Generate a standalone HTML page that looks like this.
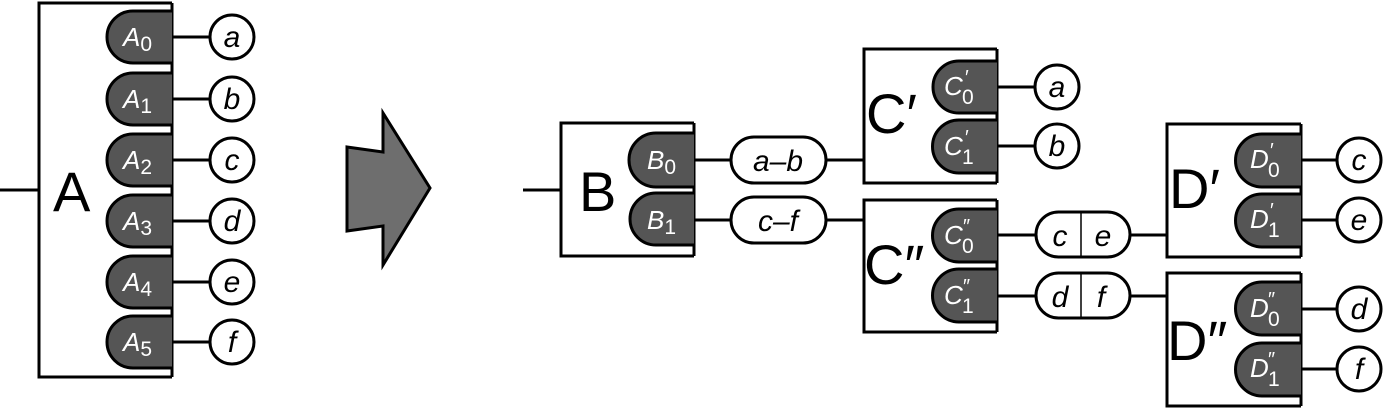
<!DOCTYPE html>
<html><head><meta charset="utf-8"><style>
html,body{margin:0;padding:0;background:#fff;}
svg{display:block;}
text{font-family:"Liberation Sans",Arial,sans-serif;}
.big{font-size:56px;fill:#000;}
.pl{font-size:26px;fill:#fff;font-style:italic;}
.sub{font-size:21px;font-style:normal;}
.cl{font-size:30px;font-style:italic;fill:#000;}
</style></head><body>
<svg width="1386" height="408" viewBox="0 0 1386 408" xmlns="http://www.w3.org/2000/svg">
<g stroke="#000" stroke-width="3" fill="none">
<!-- A -->
<line x1="0" y1="190" x2="39" y2="190"/>
<path d="M172,3 H39 V377 H172"/>
<line x1="172" y1="3" x2="172" y2="377"/>
<!-- connectors A -->
<line x1="172" y1="37" x2="210" y2="37"/>
<line x1="172" y1="99" x2="210" y2="99"/>
<line x1="172" y1="160" x2="210" y2="160"/>
<line x1="172" y1="221" x2="210" y2="221"/>
<line x1="172" y1="282" x2="210" y2="282"/>
<line x1="172" y1="342" x2="210" y2="342"/>
<g fill="#fff">
<circle cx="232" cy="37" r="22"/><circle cx="232" cy="99" r="22"/><circle cx="232" cy="160" r="22"/>
<circle cx="232" cy="221" r="22"/><circle cx="232" cy="282" r="22"/><circle cx="232" cy="342" r="22"/>
</g>
<g fill="#555">
<path d="M172,11 H133 A26,26 0 0 0 133,63 H172"/>
<path d="M172,73 H133 A26,26 0 0 0 133,125 H172"/>
<path d="M172,134 H133 A26,26 0 0 0 133,186 H172"/>
<path d="M172,195 H133 A26,26 0 0 0 133,247 H172"/>
<path d="M172,256 H133 A26,26 0 0 0 133,308 H172"/>
<path d="M172,316 H133 A26,26 0 0 0 133,368 H172"/>
</g>
<!-- arrow -->
<polygon points="347,147 383,152 383,113 430,188 383,265 383,226 347,231" fill="#6e6e6e"/>
<!-- B -->
<line x1="523" y1="190" x2="561" y2="190"/>
<path d="M694,123 H561 V256 H694"/>
<line x1="694" y1="123" x2="694" y2="256"/>
<g fill="#555">
<path d="M694,133 H656 A27,27 0 0 0 656,187 H694"/>
<path d="M694,193 H656 A26,26 0 0 0 656,245 H694"/>
</g>
<line x1="694" y1="160" x2="731" y2="160"/>
<line x1="826" y1="160" x2="864" y2="160"/>
<line x1="694" y1="220" x2="731" y2="220"/>
<line x1="826" y1="220" x2="864" y2="220"/>
<rect x="731" y="137" width="95" height="46" rx="23" fill="#fff"/>
<rect x="731" y="197" width="95" height="46" rx="23" fill="#fff"/>
<!-- C' -->
<path d="M997,49 H864 V183 H997"/>
<line x1="997" y1="49" x2="997" y2="183"/>
<g fill="#555">
<path d="M997,61 H959 A26,26 0 0 0 959,113 H997"/>
<path d="M997,120 H959 A26,26 0 0 0 959,173 H997"/>
</g>
<line x1="997" y1="87" x2="1035" y2="87"/>
<line x1="997" y1="146" x2="1035" y2="146"/>
<circle cx="1057" cy="87" r="22" fill="#fff"/>
<circle cx="1057" cy="146" r="22" fill="#fff"/>
<!-- C'' -->
<path d="M997,200 H864 V332 H997"/>
<line x1="997" y1="200" x2="997" y2="332"/>
<g fill="#555">
<path d="M997,209 H959 A26,26 0 0 0 959,262 H997"/>
<path d="M997,269 H959 A26,26 0 0 0 959,322 H997"/>
</g>
<line x1="997" y1="235" x2="1036" y2="235"/>
<line x1="1130" y1="235" x2="1167" y2="235"/>
<line x1="997" y1="296" x2="1036" y2="296"/>
<line x1="1130" y1="296" x2="1167" y2="296"/>
<rect x="1036" y="212" width="94" height="45" rx="22.5" fill="#fff"/>
<rect x="1036" y="273" width="94" height="45" rx="22.5" fill="#fff"/>
<line x1="1081" y1="213" x2="1081" y2="256" stroke-width="1.5"/>
<line x1="1081" y1="274" x2="1081" y2="317" stroke-width="1.5"/>
<!-- D' -->
<path d="M1301,124 H1167 V257 H1301"/>
<line x1="1301" y1="124" x2="1301" y2="257"/>
<g fill="#555">
<path d="M1301,134 H1262 A26,26 0 0 0 1262,187 H1301"/>
<path d="M1301,194 H1262 A26,26 0 0 0 1262,247 H1301"/>
</g>
<line x1="1301" y1="160" x2="1337" y2="160"/>
<line x1="1301" y1="220" x2="1337" y2="220"/>
<circle cx="1359" cy="160" r="22" fill="#fff"/>
<circle cx="1359" cy="220" r="22" fill="#fff"/>
<!-- D'' -->
<path d="M1301,273 H1167 V406 H1301"/>
<line x1="1301" y1="273" x2="1301" y2="406"/>
<g fill="#555">
<path d="M1301,282 H1262 A26,26 0 0 0 1262,335 H1301"/>
<path d="M1301,343 H1262 A26,26 0 0 0 1262,396 H1301"/>
</g>
<line x1="1301" y1="309" x2="1337" y2="309"/>
<line x1="1301" y1="369" x2="1337" y2="369"/>
<circle cx="1359" cy="309" r="22" fill="#fff"/>
<circle cx="1359" cy="369" r="22" fill="#fff"/>
</g>

<!-- big labels -->
<text class="big" x="53" y="211">A</text>
<text class="big" x="579" y="211">B</text>
<text class="big" x="866" y="133">C′</text>
<text class="big" x="864" y="284">C″</text>
<text class="big" x="1169" y="208">D′</text>
<text class="big" x="1167" y="360">D″</text>

<!-- A pill labels -->
<text class="pl" x="123" y="46">A<tspan class="sub" dy="5">0</tspan></text>
<text class="pl" x="123" y="108">A<tspan class="sub" dy="5">1</tspan></text>
<text class="pl" x="123" y="169">A<tspan class="sub" dy="5">2</tspan></text>
<text class="pl" x="123" y="230">A<tspan class="sub" dy="5">3</tspan></text>
<text class="pl" x="123" y="291">A<tspan class="sub" dy="5">4</tspan></text>
<text class="pl" x="123" y="351">A<tspan class="sub" dy="5">5</tspan></text>
<text class="pl" x="647" y="169">B<tspan class="sub" dy="5">0</tspan></text>
<text class="pl" x="647" y="229">B<tspan class="sub" dy="5">1</tspan></text>

<!-- primed pill labels -->
<g class="pl">
<text class="pl" x="944" y="95">C</text><text class="pl" x="965" y="84" style="font-style:normal;font-size:20px">′</text><text class="pl sub" x="962" y="104">0</text>
<text class="pl" x="944" y="155">C</text><text class="pl" x="965" y="144" style="font-style:normal;font-size:20px">′</text><text class="pl sub" x="962" y="164">1</text>
<text class="pl" x="944" y="244">C</text><text class="pl" x="963" y="233" style="font-style:normal;font-size:20px">″</text><text class="pl sub" x="962" y="253">0</text>
<text class="pl" x="944" y="304">C</text><text class="pl" x="963" y="293" style="font-style:normal;font-size:20px">″</text><text class="pl sub" x="962" y="313">1</text>
<text class="pl" x="1250" y="168">D</text><text class="pl" x="1270" y="157" style="font-style:normal;font-size:20px">′</text><text class="pl sub" x="1268" y="177">0</text>
<text class="pl" x="1250" y="228">D</text><text class="pl" x="1270" y="217" style="font-style:normal;font-size:20px">′</text><text class="pl sub" x="1268" y="237">1</text>
<text class="pl" x="1250" y="317">D</text><text class="pl" x="1268" y="306" style="font-style:normal;font-size:20px">″</text><text class="pl sub" x="1268" y="326">0</text>
<text class="pl" x="1250" y="377">D</text><text class="pl" x="1268" y="366" style="font-style:normal;font-size:20px">″</text><text class="pl sub" x="1268" y="386">1</text>
</g>

<!-- circle labels -->
<g class="cl" text-anchor="middle">
<text x="232" y="47">a</text><text x="232" y="109">b</text><text x="232" y="170">c</text>
<text x="232" y="231">d</text><text x="232" y="292">e</text><text x="232" y="352">f</text>
<text x="1057" y="97">a</text><text x="1057" y="156">b</text>
<text x="1359" y="170">c</text><text x="1359" y="230">e</text>
<text x="1359" y="319">d</text><text x="1359" y="379">f</text>
<text x="778" y="171">a–b</text><text x="778" y="231">c–f</text>
<text x="1060" y="246">c</text><text x="1103" y="246">e</text>
<text x="1060" y="307">d</text><text x="1101" y="307">f</text>
</g>
</svg>
</body></html>
